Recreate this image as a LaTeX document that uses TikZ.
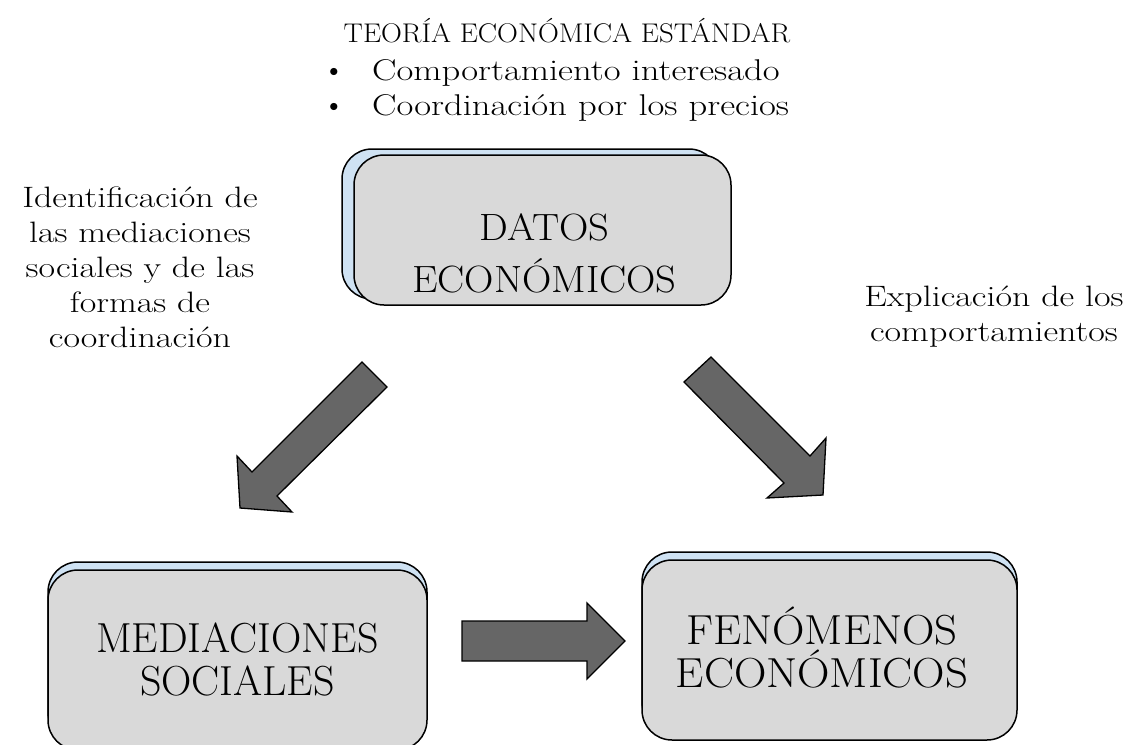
\documentclass[tikz,border=0pt]{standalone}
\usepackage{fontspec}
\newfontfamily\widefont[FakeStretch=1.22]{Latin Modern Roman}
\newfontfamily\capsfont[FakeStretch=1.07]{Latin Modern Roman}
\newfontfamily\medfont[FakeStretch=1.0]{Latin Modern Roman}
\definecolor{boxgray}{RGB}{217,217,217}
\definecolor{boxblue}{RGB}{207,226,243}
\definecolor{arrowgray}{RGB}{102,102,102}
\begin{document}
\begin{tikzpicture}[x=1pt,y=-1pt,
  frontbox/.style={draw=black, line width=1.5pt, fill=boxgray, rounded corners=30pt, inner sep=0pt},
  backbox/.style={draw=black, line width=1.5pt, fill=boxblue, rounded corners=30pt, inner sep=0pt},
  blockarrow/.style={draw=black, line width=1.3pt, fill=arrowgray, line join=miter},
  plain/.style={inner sep=0pt, align=center},
  lowtext/.style={plain, font=\widefont\fontsize{30}{35}\selectfont}]
\useasboundingbox (0,0) rectangle (1129,744);
\clip (0,0) rectangle (1129,744);

% title and bullets
\node[plain, anchor=base, font=\capsfont\fontsize{27}{32}\selectfont] (title) at (567,42) {TEORÍA ECONÓMICA ESTÁNDAR};
\node[plain, anchor=base, font=\fontsize{32}{34}\selectfont] (b1) at (334,80) {•};
\node[lowtext, anchor=base west] (t1) at (372,80) {Comportamiento interesado};
\node[plain, anchor=base, font=\fontsize{32}{34}\selectfont] (b2) at (334,115) {•};
\node[lowtext, anchor=base west] (t2) at (372,115) {Coordinación por los precios};

% side labels
\node[lowtext, anchor=base, font=\widefont\fontsize{29.5}{35}\selectfont] (left) at (140,347) {Identificación de\\las mediaciones\\sociales y de las\\formas de\\coordinación};
\node[lowtext, anchor=base, font=\widefont\fontsize{29.5}{35}\selectfont] (right) at (994,341) {Explicación de los\\comportamientos};

% boxes
\node[backbox, minimum width=377pt, minimum height=150pt] (datosback) at (530.5,224) {};
\node[frontbox, minimum width=377pt, minimum height=150pt] (datos) at (542.5,230) {};
\node[plain, anchor=base, font=\capsfont\fontsize{38}{52}\selectfont] (datostext) at (544.5,292) {DATOS\\ECONÓMICOS};

\node[backbox, minimum width=379pt, minimum height=180pt] (medback) at (237.5,652) {};
\node[frontbox, minimum width=379pt, minimum height=180pt] (med) at (237.5,660) {};
\node[plain, anchor=base, font=\medfont\fontsize{42}{43}\selectfont] (medtext) at (237.5,695) {MEDIACIONES\\SOCIALES};

\node[backbox, minimum width=375pt, minimum height=180pt] (fenback) at (829.5,642) {};
\node[frontbox, minimum width=375pt, minimum height=180pt] (fen) at (829.5,650) {};
\node[plain, anchor=base, font=\capsfont\fontsize{42}{43}\selectfont] (fentext) at (822,687) {FENÓMENOS\\ECONÓMICOS};

% block arrows
\draw[blockarrow] (362,362) -- (387,387) -- (277,496) -- (292,512) -- (240,508) -- (237,456) -- (252,472) -- cycle;
\draw[blockarrow] (711,357) -- (810,456) -- (826,438) -- (823,495) -- (767,498) -- (784,483) -- (684,382) -- cycle;
\draw[blockarrow] (462,621) -- (587,621) -- (587,603) -- (625,641) -- (587,679) -- (587,661) -- (462,661) -- cycle;
\end{tikzpicture}
\end{document}
